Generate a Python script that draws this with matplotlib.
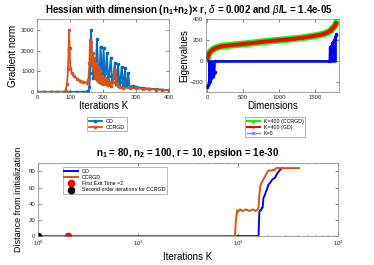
import matplotlib
matplotlib.use("Agg")
import matplotlib.pyplot as plt

plt.rcParams['font.family'] = ['Liberation Sans', 'DejaVu Sans']
plt.rcParams['mathtext.fontset'] = 'custom'
plt.rcParams['mathtext.rm'] = 'Liberation Sans'
plt.rcParams['mathtext.it'] = 'Liberation Sans:italic'
plt.rcParams['mathtext.bf'] = 'Liberation Sans:bold'

# gradient norm per iteration (top left)
gd_it = [0, 20, 40, 60, 80, 100, 120, 140, 150, 155, 158, 160, 163, 166, 170, 174, 177, 181, 185,
         188, 192, 196, 198, 201, 205, 208, 211, 215, 218, 223, 227, 231, 235, 239, 242, 245, 249,
         252, 256, 260, 263, 266, 270, 273, 276, 280, 290, 300, 320, 340, 360, 380, 400]
gd_norm = [20, 20, 20, 20, 20, 20, 20, 20, 30, 60, 250, 900, 2990, 1500, 700, 1200, 900, 2560, 1000,
           600, 2190, 900, 700, 2110, 700, 900, 1870, 600, 800, 1660, 500, 700, 1390, 400, 600, 1340, 400,
           500, 1230, 350, 500, 1150, 300, 400, 910, 250, 300, 250, 200, 170, 150, 120, 100]
cc_it = [0, 20, 40, 60, 80, 86, 90, 93, 95, 96, 98, 100, 105, 110, 120, 130, 140, 150, 155, 158, 160,
         162, 164, 166, 168, 170, 172, 175, 178, 181, 184, 187, 190, 193, 196, 200, 204, 208, 212, 216,
         220, 225, 230, 233, 236, 239, 242, 246, 250, 260, 280, 300, 320, 340, 360, 380, 400]
cc_norm = [20, 20, 20, 20, 25, 60, 400, 1100, 2100, 3000, 2100, 1150, 900, 780, 650, 560, 500, 450, 600,
           1400, 2510, 1500, 2400, 1300, 1900, 1100, 1630, 700, 1400, 600, 1230, 500, 1000, 450, 800,
           400, 700, 380, 600, 350, 500, 300, 500, 900, 1070, 700, 400, 300, 250, 220, 200, 180, 160,
           150, 130, 120, 100]

# eigenvalues (top right)
eig_x = [0, 20, 40, 70, 106, 140, 176, 250, 361, 480, 593, 720, 847, 970, 1100, 1220, 1333, 1450,
         1565, 1630, 1680, 1720, 1750, 1775, 1797]
eig_y = [30, 70, 90, 108, 122, 131, 138, 146, 154, 162, 170, 180, 190, 198, 206, 215, 224, 236,
         250, 262, 275, 292, 314, 335, 362]
k0_x = [0, 10, 20, 30, 40, 50, 60, 70, 80, 90, 100, 105, 1700, 1705, 1715, 1725, 1735, 1745, 1755,
        1765, 1775, 1785, 1795, 1800]
k0_y = [-250, -230, -210, -190, -170, -160, -150, -140, -130, -120, -110, 0, 0, 120, 130, 140, 150,
        170, 185, 200, 215, 230, 250, 260]

# distance from initialization (bottom)
gd_dx = [1, 2, 5, 10, 50, 100, 150, 160, 163, 166, 170, 172, 176, 179, 184, 190, 195, 200, 210,
         220, 234, 245, 263, 275]
gd_dy = [0, 0, 0, 0, 0, 0, 0, 0, 30, 32, 32, 35, 35, 47, 50, 55, 58, 63, 66, 70, 72, 77, 82, 84]
cc_dx = [1, 2, 10, 50, 90, 93, 95, 98, 100, 105, 110, 120, 130, 140, 150, 158, 160, 163, 166, 172,
         179, 190, 201, 215, 234, 240, 300, 407]
cc_dy = [0, 0, 0, 0, 0, 0, 20, 32, 30, 33, 31, 33, 31, 33, 31, 33, 35, 50, 61, 66, 70, 76, 81, 81,
         82, 84, 84, 84]
exit_time = 2
second_order = 1

blue = '#0072BD'
orange = '#D95319'
axcol = '#262626'

fig = plt.figure(figsize=(3.74, 2.65), dpi=100)

def style(ax):
    ax.tick_params(direction='in', top=True, right=True, labelsize=4.3, colors=axcol,
                   length=2, width=0.4, pad=2)
    ax.tick_params(which='minor', direction='in', top=True, right=True, length=1, width=0.3)
    for s in ax.spines.values():
        s.set_color('#808080')
        s.set_linewidth(0.5)

# top left
ax1 = fig.add_axes([0.100, 0.652, 0.352, 0.275])
ax1.plot(gd_it, gd_norm, '-s', color=blue, lw=1.3, ms=2, label='GD')
ax1.plot(cc_it, cc_norm, '-o', color=orange, lw=1.3, ms=1.6, label='CCRGD')
ax1.set_xlim(0, 400)
ax1.set_ylim(0, 3500)
ax1.set_yticks([0, 1000, 2000, 3000])
ax1.set_xlabel('Iterations K', fontsize=7, labelpad=1)
ax1.set_ylabel('Gradient norm', fontsize=7, labelpad=2)
style(ax1)
ax1.legend(loc='upper left', bbox_to_anchor=(0.233, 0.558), bbox_transform=fig.transFigure,
           fontsize=3.8, handlelength=2.5, borderpad=0.3, labelspacing=0.2, fancybox=False,
           edgecolor='#808080', framealpha=1, borderaxespad=0).get_frame().set_linewidth(0.4)

# top right
ax2 = fig.add_axes([0.550, 0.652, 0.357, 0.275])
ax2.plot(eig_x, eig_y, '-s', color='#00FF00', lw=5, ms=2, label='K=400 (CCRGD)')
ax2.plot(eig_x, eig_y, '-', color='red', lw=2.8, marker='4', ms=2, label='K=400 (GD)')
ax2.fill_between(k0_x, 0, k0_y, color='blue', lw=0)
ax2.hlines(0, min(k0_x), max(k0_x), color='blue', lw=1.8)
ax2.plot(k0_x, k0_y, '-o', color='blue', lw=1, ms=1.5, label='K=0')
ax2.set_xlim(-25, 1840)
ax2.set_ylim(-300, 400)
ax2.set_xticks([0, 500, 1000, 1500])
ax2.set_yticks([-200, 0, 200, 400])
ax2.set_xlabel('Dimensions', fontsize=7, labelpad=1)
ax2.set_ylabel('Eigenvalues', fontsize=7, labelpad=0)
style(ax2)
leg2 = ax2.legend(loc='upper left', bbox_to_anchor=(0.655, 0.558), bbox_transform=fig.transFigure,
                  fontsize=3.8, handlelength=2.5, borderpad=0.3, labelspacing=0.2, fancybox=False,
                  edgecolor='#808080', framealpha=1, borderaxespad=0)
leg2.get_frame().set_linewidth(0.4)
leg2.get_lines()[0].set_linewidth(1.5)
leg2.get_lines()[1].set_linewidth(1.5)
leg2.get_lines()[2].set_color('#8080ff')

fig.text(0.504, 0.962,
         r'Hessian with dimension (n$_\mathbf{1}$+n$_\mathbf{2}$)$\mathbf{\times}$ r, $\delta$ = 0.002 and $\beta$/L = 1.4e-05',
         ha='center', va='center', fontsize=7, fontweight='bold')

# bottom
ax3 = fig.add_axes([0.102, 0.109, 0.802, 0.275])
ax3.plot(gd_dx, gd_dy, color='blue', lw=1.4, label='GD')
ax3.plot(cc_dx, cc_dy, color=orange, lw=1.4, label='CCRGD')
ax3.plot(exit_time, 0, 'o', color='red', ms=4.5, label='First Exit Time =%d' % exit_time)
ax3.plot(second_order, 0, 'o', color='black', ms=4.5, label='Second order iterations for CCRGD')
ax3.set_xscale('log')
ax3.set_xlim(1, 1000)
ax3.set_ylim(0, 90)
ax3.set_yticks([0, 20, 40, 60, 80])
ax3.set_xlabel('Iterations K', fontsize=7, labelpad=3)
ax3.set_ylabel('Distance from initialization', fontsize=6.5, labelpad=4)
ax3.set_title(r'n$_\mathbf{1}$ = 80, n$_\mathbf{2}$ = 100, r = 10, epsilon = 1e-30',
              fontsize=7, fontweight='bold', pad=5)
style(ax3)
leg3 = ax3.legend(loc='upper left', bbox_to_anchor=(0.168, 0.370), bbox_transform=fig.transFigure,
                  fontsize=3.8, handlelength=2.5, borderpad=0.3, labelspacing=0.25, fancybox=False,
                  edgecolor='#808080', framealpha=1, borderaxespad=0)
leg3.get_frame().set_linewidth(0.4)

fig.savefig('out.png', dpi=100)
